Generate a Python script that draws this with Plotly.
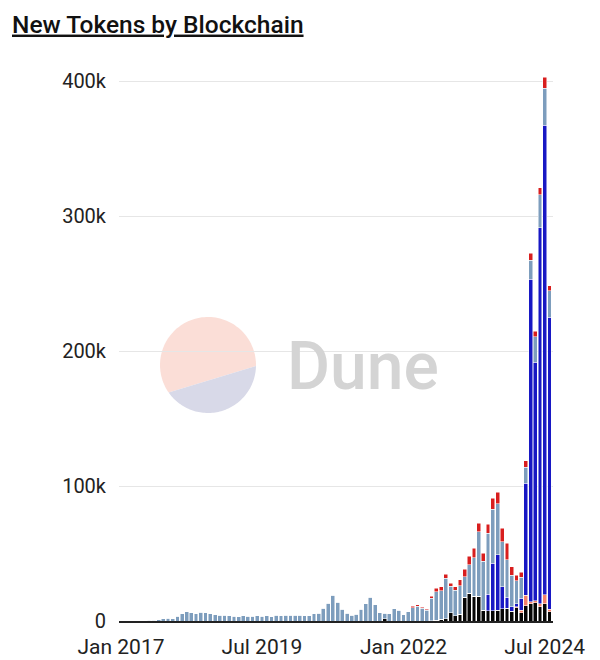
import numpy as np
import pandas as pd
import plotly.graph_objects as go

# monthly buckets, Jan 2017 .. Aug 2024
months = pd.date_range("2017-01-01", "2024-08-01", freq="MS")

# new tokens per month, in thousands
bnb = [0] * 56 + [1.5] + [0] * 9 + [
    0.3, 0.5, 1.2, 1.7, 6.2, 4.0, 5.0, 17.5, 20.5, 18.5, 18.5, 8.1, 7.7,
    7.7, 8.1, 9.1, 9.4, 7.4, 9.9, 6.2, 11.2, 12.6, 13.6, 10.6, 12.6, 6.9]
arbitrum = [0] * 84 + [0.5, 1.9, 8.0, 1.7, 1.4, 2.0, 6.7, 1.7]
base = [0] * 78 + [12.1, 35.0, 40.8, 16.3, 8.1, 3.2, 2.2, 8.7, 82.8, 238.7,
                   176.6, 278.8, 348.1, 216.4]
ethereum = [
    0, 0, 0, 0, 0, 0.2, 0.5, 0.7, 1.0, 1.7, 2.2, 1.7,
    3.7, 5.4, 6.9, 6.2, 5.2, 6.4, 6.2, 5.4, 4.7, 4.4, 4.4, 4.0,
    3.7, 3.2, 4.0, 3.7, 3.7, 4.0, 3.7, 4.0, 3.2, 4.2, 4.0, 4.2,
    4.4, 4.4, 4.2, 4.0, 4.0, 5.2, 5.7, 9.4, 13.0, 19.0, 13.8, 8.6,
    5.7, 4.2, 4.9, 8.6, 12.8, 17.5, 11.9, 6.3, 4.4, 5.5, 9.2, 7.8,
    4.6, 7.0, 10.0, 10.8, 9.6, 7.8, 16.5, 21.0, 21.1, 29.8, 19.5, 18.9,
    21.0, 15.3, 21.0, 28.4, 47.7, 36.3, 45.1, 40.0, 38.1, 33.4, 27.7, 23.4,
    17.3, 15.5, 12.0, 14.4, 19.0, 24.2, 27.2, 19.7]
optimism = [0] * 62 + [
    1.0, 1.2, 0.6, 1.0, 1.5, 2.7, 3.2, 3.2, 2.2, 2.5, 4.5, 5.5, 6.5, 6.9,
    6.1, 5.7, 6.7, 8.2, 8.3, 9.8, 12.3, 6.2, 4.1, 3.7, 4.8, 5.0, 4.2, 5.4,
    8.1, 3.7]

x_ticks = ["2017-01-01", "2019-07-01", "2022-01-01", "2024-07-01"]

series = [
    ("bnb", bnb, "#050505"),
    ("arbitrum", arbitrum, "#f3806b"),
    ("base", base, "#1818c4"),
    ("ethereum", ethereum, "#7d9dbd"),
    ("optimism", optimism, "#d81e1e"),
]

# the page body adds an 8px margin, so the figure is 8px smaller than the window
W, H = 592, 652
L, R, T, B = 111, 47, 46, 39
PW, PH = W - L - R, H - T - B

fig = go.Figure()
for name, vals, color in series:
    fig.add_trace(go.Bar(
        x=months,
        y=np.array(vals) * 1000,
        name=name,
        marker=dict(color=color, line=dict(color="white", width=0.5)),
        width=25 * 24 * 3600 * 1000,
    ))


def to_paper(px, py):
    return (px - L) / PW, (H - B - py) / PH


def arc_path(cx, cy, r, a0, a1, n=80):
    pts = []
    for a in np.linspace(np.radians(a0), np.radians(a1), n):
        pts.append(to_paper(cx + r * np.cos(a), cy - r * np.sin(a)))
    return "M " + " L ".join(f"{x:.4f},{y:.4f}" for x, y in pts) + " Z"


# Dune watermark
fig.add_shape(type="path", path=arc_path(200, 357, 48, -1.2, 215),
              xref="paper", yref="paper", fillcolor="#fbded7",
              line=dict(width=0), layer="below")
fig.add_shape(type="path", path=arc_path(200, 357, 48, 215, 358.8),
              xref="paper", yref="paper", fillcolor="#d8d9e8",
              line=dict(width=0), layer="below")
fig.add_annotation(text="Dune", x=to_paper(355, 0)[0], y=to_paper(0, 358)[1],
                   xref="paper", yref="paper", showarrow=False,
                   xanchor="center", yanchor="middle",
                   font=dict(family="Roboto", size=66, color="#d4d4d4",
                             weight=500))

fig.update_layout(
    width=W, height=H, autosize=False,
    margin=dict(l=L, r=R, t=T, b=B, autoexpand=False),
    barmode="stack",
    showlegend=False,
    plot_bgcolor="white", paper_bgcolor="white",
    font=dict(family="Roboto", color="#222"),
    title=dict(text="<u>New Tokens by Blockchain</u>", x=4 / W, xanchor="left",
               y=1 - 16 / H, yanchor="middle", pad=dict(l=0, r=0, t=0, b=0),
               font=dict(size=24.5, color="#111", weight=500)),
)
fig.update_xaxes(
    type="date",
    range=["2016-12-19", "2024-08-24"],
    tickvals=x_ticks, tickformat="%b %Y",
    showgrid=False, showline=True, linecolor="#222", linewidth=1.5,
    ticks="", ticklabelstandoff=6, automargin=False,
    tickfont=dict(size=21, color="#222"),
)
fig.update_yaxes(
    range=[0, 420000],
    tickvals=[0, 100000, 200000, 300000, 400000],
    ticktext=["0", "100k", "200k", "300k", "400k"],
    showgrid=True, gridcolor="#e6e6e6", gridwidth=1, zeroline=False,
    ticks="", ticklabelstandoff=12, automargin=False,
    tickfont=dict(size=20, color="#222"),
)

fig.write_html("out.html")
